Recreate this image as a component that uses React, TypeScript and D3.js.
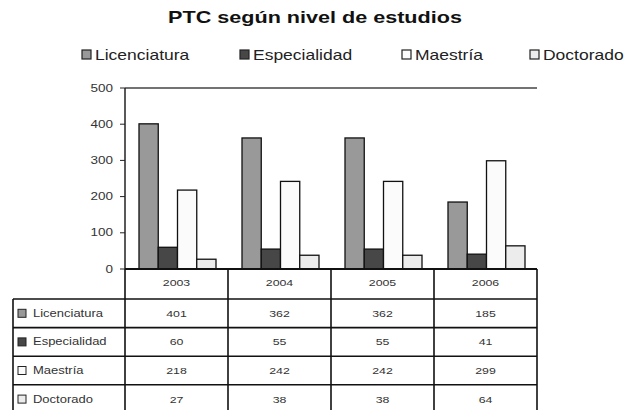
import React from 'react';
import * as d3 from 'd3';

const years = ['2003', '2004', '2005', '2006'];
const seriesNames = ['Licenciatura', 'Especialidad', 'Maestría', 'Doctorado'];
const licenciatura = [401, 362, 362, 185];
const especialidad = [60, 55, 55, 41];
const maestria = [218, 242, 242, 299];
const doctorado = [27, 38, 38, 64];
const yTicks = [0, 100, 200, 300, 400, 500];

const seriesValues = [licenciatura, especialidad, maestria, doctorado];
const fills = ['#999999', '#474747', '#fbfbfb', '#ececec'];

const W = 627;
const H = 410;
const plot = { left: 125, right: 537, top: 88, bottom: 269 };
const rowH = 28.6;
const tableLeft = 13;

// the reference text is stretched sideways, so widen glyphs with a scale
const SText: React.FC<{ x: number; y: number; sx: number; size: number; anchor?: string; weight?: string; fill?: string; children: React.ReactNode }> =
  ({ x, y, sx, size, anchor = 'start', weight = 'normal', fill = '#333', children }) => (
    <text transform={`translate(${x},${y}) scale(${sx},1)`} textAnchor={anchor} fontSize={size} fontWeight={weight} fill={fill}>
      {children}
    </text>
  );

const App: React.FC = () => {
  const x = d3.scaleBand<string>().domain(years).range([plot.left, plot.right]);
  const inner = d3.scaleBand<string>().domain(seriesNames).range([14, x.bandwidth() - 12]);
  const y = d3.scaleLinear().domain([0, 500]).range([plot.bottom, plot.top]);

  const headerBottom = plot.bottom + 30;
  const rowTops = seriesNames.map((_, i) => headerBottom + i * rowH);
  const legendX = [82, 240, 402, 530];

  return (
    <svg width={W} height={H} style={{ position: 'absolute', left: 0, top: 0, background: '#fff' }}
      fontFamily="Liberation Sans, Arial, sans-serif">
      <SText x={315} y={23} sx={1.27} size={17} anchor="middle" weight="bold" fill="#111">
        PTC según nivel de estudios
      </SText>

      {/* legend */}
      {seriesNames.map((s, i) => (
        <g key={s}>
          <rect x={legendX[i]} y={50} width={9} height={9} fill={fills[i]} stroke="#222" strokeWidth={1.2} />
          <SText x={legendX[i] + 13} y={60} sx={1.25} size={14} fill="#222">{s}</SText>
        </g>
      ))}

      {/* top line at 500 */}
      <line x1={plot.left} x2={plot.right} y1={y(500)} y2={y(500)} stroke="#444" strokeWidth={1.5} />

      {/* y axis */}
      <line x1={plot.left} x2={plot.left} y1={plot.top} y2={plot.bottom} stroke="#222" strokeWidth={1.5} />
      {yTicks.map(t => (
        <g key={t}>
          <line x1={plot.left - 5} x2={plot.left} y1={y(t)} y2={y(t)} stroke="#222" strokeWidth={1} />
          <SText x={plot.left - 12} y={y(t) + 3.5} sx={1.35} size={10} anchor="end">{t}</SText>
        </g>
      ))}

      {/* bars */}
      {years.map((yr, yi) => (
        <g key={yr}>
          {seriesNames.map((s, si) => {
            const v = seriesValues[si][yi];
            return (
              <rect key={s}
                x={x(yr)! + inner(s)!}
                y={y(v)}
                width={inner.bandwidth()}
                height={y(0) - y(v)}
                fill={fills[si]}
                stroke="#111"
                strokeWidth={1.3}
              />
            );
          })}
        </g>
      ))}

      {/* data table */}
      <g stroke="#111" strokeWidth={1.6}>
        <line x1={plot.left} x2={plot.right} y1={plot.bottom} y2={plot.bottom} strokeWidth={2} />
        {years.map(yr => (
          <line key={yr} x1={x(yr)!} x2={x(yr)!} y1={plot.bottom} y2={H} />
        ))}
        <line x1={plot.right} x2={plot.right} y1={plot.bottom} y2={H} />
        <line x1={tableLeft} x2={tableLeft} y1={headerBottom} y2={H} />
        {rowTops.map((ry, i) => (
          <line key={i} x1={tableLeft} x2={plot.right} y1={ry} y2={ry} />
        ))}
        <line x1={tableLeft} x2={plot.right} y1={headerBottom + 4 * rowH} y2={headerBottom + 4 * rowH} />
      </g>

      {years.map(yr => (
        <SText key={yr} x={x(yr)! + x.bandwidth() / 2} y={plot.bottom + 17} sx={1.3} size={9.5} anchor="middle">{yr}</SText>
      ))}

      {seriesNames.map((s, si) => (
        <g key={s}>
          <rect x={tableLeft + 5} y={rowTops[si] + rowH / 2 - 4} width={8} height={8} fill={fills[si]} stroke="#222" strokeWidth={1} />
          <SText x={tableLeft + 20} y={rowTops[si] + rowH / 2 + 3.5} sx={1.3} size={10}>{s}</SText>
          {years.map((yr, yi) => (
            <SText key={yr} x={x(yr)! + x.bandwidth() / 2} y={rowTops[si] + rowH / 2 + 3.5} sx={1.3} size={9.5} anchor="middle">
              {seriesValues[si][yi]}
            </SText>
          ))}
        </g>
      ))}
    </svg>
  );
};

export default App;
